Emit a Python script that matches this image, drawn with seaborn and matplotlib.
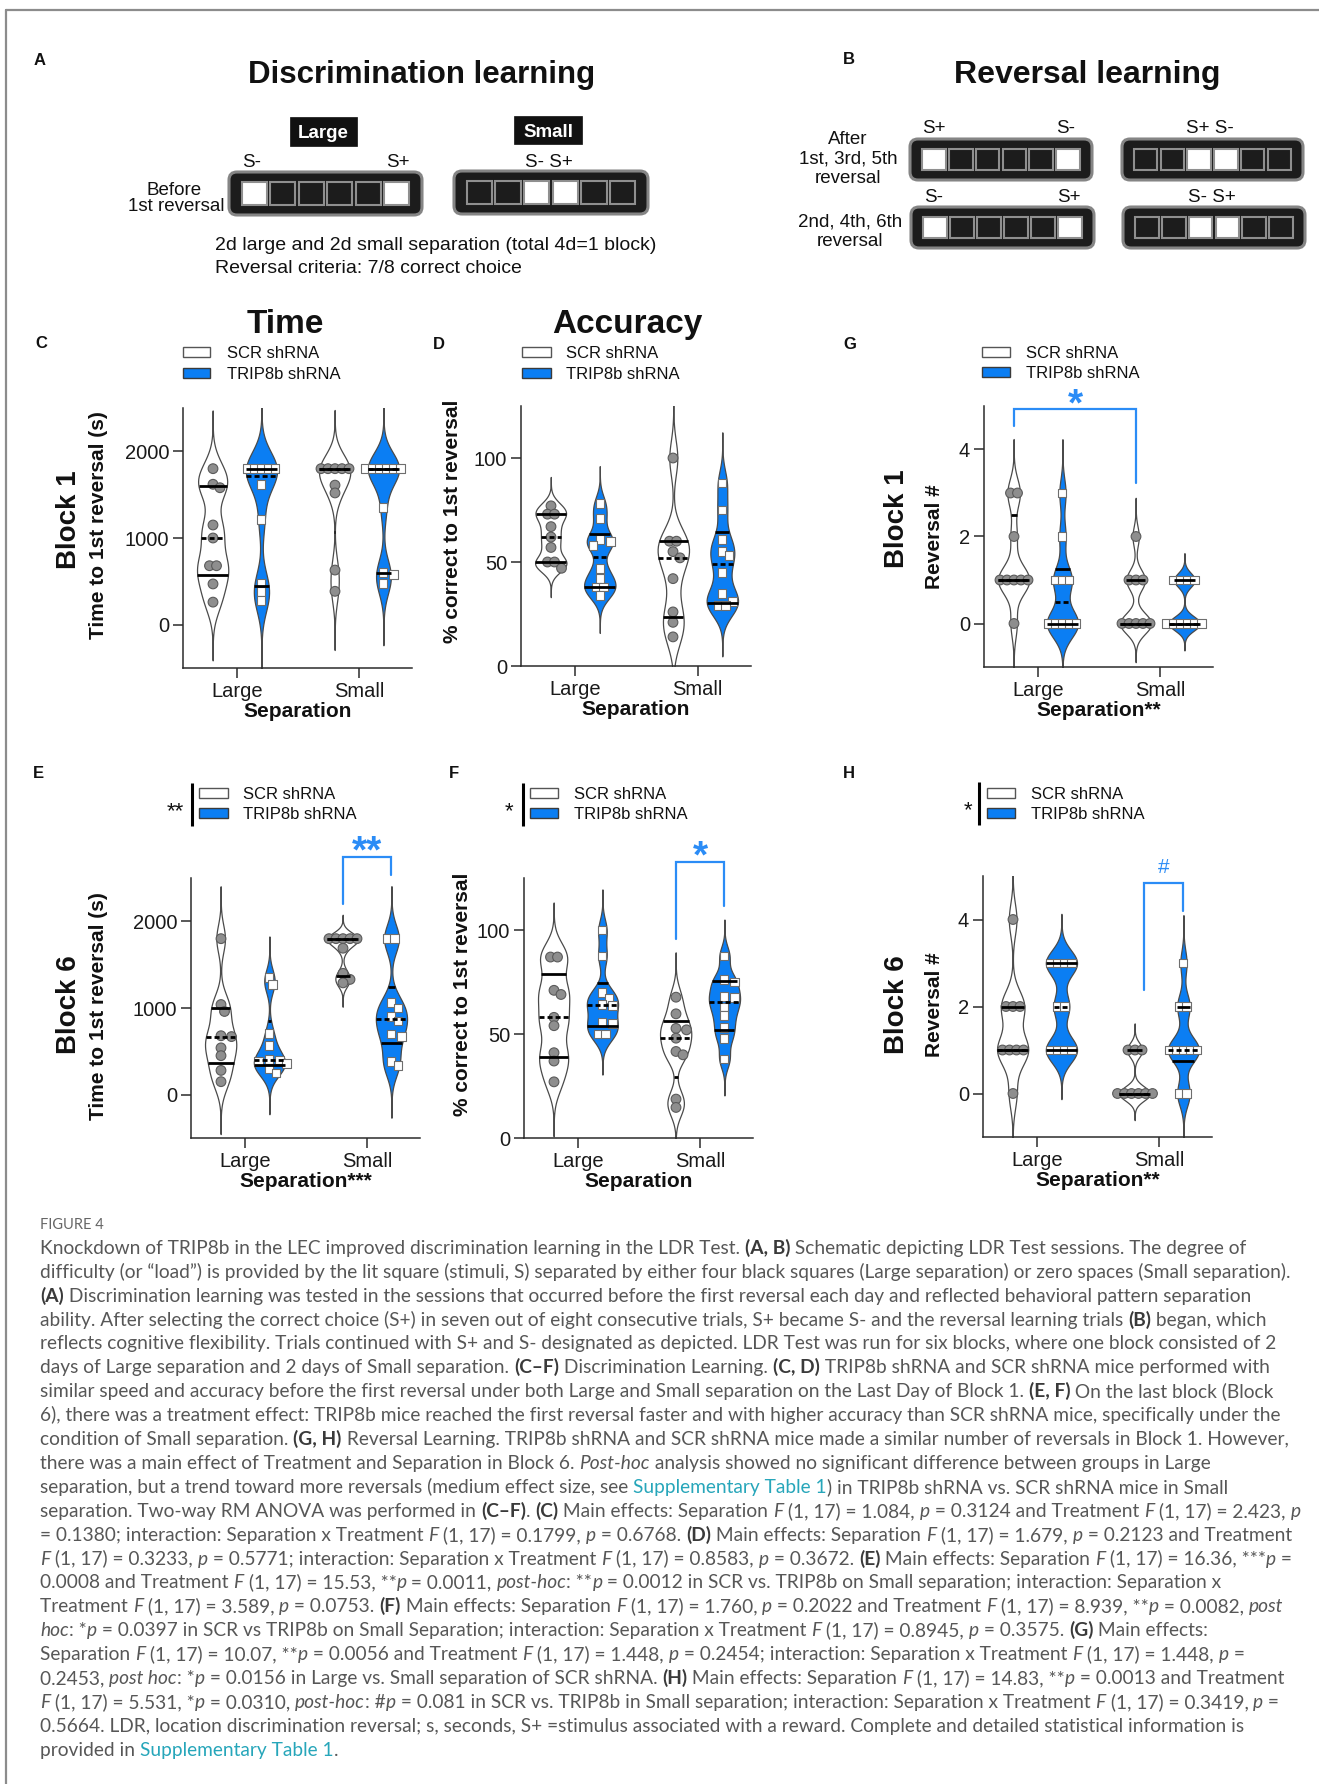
import re
import numpy as np
import pandas as pd
import matplotlib
matplotlib.use("Agg")
import matplotlib.pyplot as plt
import seaborn as sns
from matplotlib.patches import Rectangle, FancyBboxPatch

W, H, DPI = 1319, 1784, 100
PT = DPI / 72.0

# ---------------- data ----------------
SEPARATIONS = ["Large", "Small"]
TREATMENTS = ["SCR shRNA", "TRIP8b shRNA"]

# Block 1 - time to 1st reversal (s)
C_scr_large = [1800, 1620, 1580, 1150, 1000, 680, 680, 470, 260]
C_trip_large = [1800, 1800, 1800, 1800, 1800, 1620, 1210, 470, 380, 280]
C_scr_small = [1800, 1800, 1800, 1800, 1800, 1610, 1520, 630, 385]
C_trip_small = [1800, 1800, 1800, 1800, 1800, 1800, 1350, 600, 580, 470]
# Block 1 - % correct to 1st reversal
D_scr_large = [77, 73, 73, 67, 62, 57, 50, 50, 47]
D_trip_large = [78, 71, 61, 60, 58, 47, 42, 38, 38, 34]
D_scr_small = [100, 60, 60, 55, 52, 42, 26, 21, 14]
D_trip_small = [88, 75, 61, 55, 53, 45, 35, 31, 29, 29]
# Block 1 - reversal #
G_scr_large = [3, 3, 2, 1, 1, 1, 1, 1, 0]
G_trip_large = [3, 2, 1, 1, 1, 0, 0, 0, 0, 0]
G_scr_small = [2, 1, 1, 1, 0, 0, 0, 0, 0]
G_trip_small = [1, 1, 1, 1, 0, 0, 0, 0, 0, 0]
# Block 6 - time to 1st reversal (s)
E_scr_large = [1800, 1040, 960, 680, 670, 540, 450, 280, 150]
E_trip_large = [1350, 1270, 710, 570, 410, 400, 380, 360, 300, 250]
E_scr_small = [1800, 1800, 1800, 1800, 1800, 1690, 1400, 1330, 1290]
E_trip_small = [1800, 1800, 1060, 1000, 900, 850, 700, 670, 385, 340]
# Block 6 - % correct to 1st reversal
F_scr_large = [87, 87, 71, 69, 58, 54, 41, 37, 27]
F_trip_large = [100, 87.5, 70, 67, 64, 63.5, 55.5, 55, 50, 50]
F_scr_small = [67.7, 59.7, 52.7, 52, 48, 41.6, 40, 18.7, 14.7]
F_trip_small = [87.5, 76, 75, 68, 67.5, 63, 58.7, 53, 48, 38]
# Block 6 - reversal #
H_scr_large = [4, 2, 2, 2, 1, 1, 1, 1, 0]
H_trip_large = [3, 3, 3, 3, 2, 2, 1, 1, 1, 1]
H_scr_small = [1, 1, 1, 0, 0, 0, 0, 0, 0]
H_trip_small = [3, 2, 2, 1, 1, 1, 1, 1, 0, 0]

TIME_TICKS = [0, 1000, 2000]
ACC_TICKS = [0, 50, 100]
REV_TICKS = [0, 2, 4]

CAPTION = [
    "Knockdown of TRIP8b in the LEC improved discrimination learning in the LDR Test. {b:(A, B)} Schematic depicting LDR Test sessions. The degree of",
    "difficulty (or \u201cload\u201d) is provided by the lit square (stimuli, S) separated by either four black squares (Large separation) or zero spaces (Small separation).",
    "{b:(A)} Discrimination learning was tested in the sessions that occurred before the first reversal each day and reflected behavioral pattern separation",
    "ability. After selecting the correct choice (S+) in seven out of eight consecutive trials, S+ became S- and the reversal learning trials {b:(B)} began, which",
    "reflects cognitive flexibility. Trials continued with S+ and S- designated as depicted. LDR Test was run for six blocks, where one block consisted of 2",
    "days of Large separation and 2 days of Small separation. {b:(C\u2013F)} Discrimination Learning. {b:(C, D)} TRIP8b shRNA and SCR shRNA mice performed with",
    "similar speed and accuracy before the first reversal under both Large and Small separation on the Last Day of Block 1. {b:(E, F)} On the last block (Block",
    "6), there was a treatment effect: TRIP8b mice reached the first reversal faster and with higher accuracy than SCR shRNA mice, specifically under the",
    "condition of Small separation. {b:(G, H)} Reversal Learning. TRIP8b shRNA and SCR shRNA mice made a similar number of reversals in Block 1. However,",
    "there was a main effect of Treatment and Separation in Block 6. {i:Post-hoc} analysis showed no significant difference between groups in Large",
    "separation, but a trend toward more reversals (medium effect size, see {l:Supplementary Table 1}) in TRIP8b shRNA vs. SCR shRNA mice in Small",
    "separation. Two-way RM ANOVA was performed in {b:(C\u2013F)}. {b:(C)} Main effects: Separation {i:F} (1, 17) = 1.084, {i:p} = 0.3124 and Treatment {i:F} (1, 17) = 2.423, {i:p}",
    "= 0.1380; interaction: Separation x Treatment {i:F} (1, 17) = 0.1799, {i:p} = 0.6768. {b:(D)} Main effects: Separation {i:F} (1, 17) = 1.679, {i:p} = 0.2123 and Treatment",
    "{i:F} (1, 17) = 0.3233, {i:p} = 0.5771; interaction: Separation x Treatment {i:F} (1, 17) = 0.8583, {i:p} = 0.3672. {b:(E)} Main effects: Separation {i:F} (1, 17) = 16.36, ***{i:p} =",
    "0.0008 and Treatment {i:F} (1, 17) = 15.53, **{i:p} = 0.0011, {i:post-hoc}: **{i:p} = 0.0012 in SCR vs. TRIP8b on Small separation; interaction: Separation x",
    "Treatment {i:F} (1, 17) = 3.589, {i:p} = 0.0753. {b:(F)} Main effects: Separation {i:F} (1, 17) = 1.760, {i:p} = 0.2022 and Treatment {i:F} (1, 17) = 8.939, **{i:p} = 0.0082, {i:post}",
    "{i:hoc}: *{i:p} = 0.0397 in SCR vs TRIP8b on Small Separation; interaction: Separation x Treatment {i:F} (1, 17) = 0.8945, {i:p} = 0.3575. {b:(G)} Main effects:",
    "Separation {i:F} (1, 17) = 10.07, **{i:p} = 0.0056 and Treatment {i:F} (1, 17) = 1.448, {i:p} = 0.2454; interaction: Separation x Treatment {i:F} (1, 17) = 1.448, {i:p} =",
    "0.2453, {i:post hoc}: *{i:p} = 0.0156 in Large vs. Small separation of SCR shRNA. {b:(H)} Main effects: Separation {i:F} (1, 17) = 14.83, **{i:p} = 0.0013 and Treatment",
    "{i:F} (1, 17) = 5.531, *{i:p} = 0.0310, {i:post-hoc}: #{i:p} = 0.081 in SCR vs. TRIP8b in Small separation; interaction: Separation x Treatment {i:F} (1, 17) = 0.3419, {i:p} =",
    "0.5664. LDR, location discrimination reversal; s, seconds, S+ =stimulus associated with a reward. Complete and detailed statistical information is",
    "provided in {l:Supplementary Table 1}.",
]

# ---------------- style ----------------
BLUE = "#0b7ef3"
BR_BLUE = "#2b8cf6"
DARK = "#1c1c1c"

sns.set_theme(style="ticks")
plt.rcParams["font.family"] = ["Liberation Sans", "DejaVu Sans"]

fig = plt.figure(figsize=(W / DPI, H / DPI), dpi=DPI)
fig.patch.set_facecolor("white")
cv = fig.add_axes([0, 0, 1, 1])
cv.set_xlim(0, W)
cv.set_ylim(H, 0)
cv.axis("off")


def T(x, y, s, size, weight="normal", color="#111111", ha="center", k=0.36, **kw):
    """text whose cap-centre is at pixel y"""
    return cv.text(x, y + k * size * PT, s, fontsize=size, fontweight=weight,
                   color=color, ha=ha, va="baseline", **kw)


def VT(x, y, s, size):
    return cv.text(x, y, s, fontsize=size, fontweight="bold", color="#111111",
                   rotation=90, ha="center", va="center")


# frame
cv.plot([6, W], [10, 10], color="#8c8c8c", lw=1.6)
cv.plot([6, 6], [10, H], color="#8c8c8c", lw=1.6)


# ---------------- schematic A / B ----------------
def device(x0, x1, y0, y1, lit):
    w, h = x1 - x0, y1 - y0
    cv.add_patch(FancyBboxPatch((x0, y0), w, h, boxstyle="round,pad=0,rounding_size=8",
                                fc=DARK, ec="#858585", lw=2.2, zorder=2))
    m = 0.066 * w
    sw = 0.13 * w
    pitch = (w - 2 * m - sw) / 5
    sh = 0.52 * h
    sy = y0 + (h - sh) / 2
    for i in range(6):
        cv.add_patch(Rectangle((x0 + m + i * pitch, sy), sw, sh,
                               fc="white" if i in lit else DARK, ec="#8f8f8f", lw=1.5, zorder=3))


def label_box(x0, x1, y0, y1, s):
    cv.add_patch(Rectangle((x0, y0), x1 - x0, y1 - y0, fc="#111111", ec="#111111", lw=0.5))
    T((x0 + x1) / 2, (y0 + y1) / 2, s, 13.5, weight="bold", color="white")


T(34, 59, "A", 12, weight="bold", ha="left")
T(422, 72, "Discrimination learning", 22.5, weight="bold")
label_box(290, 357, 117, 146, "Large")
label_box(514, 582, 116, 144, "Small")
T(252, 160, "S-", 13.5)
T(398, 160, "S+", 13.5)
T(549, 160, "S- S+", 13.5)
device(229, 422, 172, 215, [0, 5])
device(454, 648, 171, 214, [2, 3])
T(174, 188, "Before", 13.5)
T(176, 204, "1st reversal", 13.5)
T(215, 243, "2d large and 2d small separation (total 4d=1 block)", 14, ha="left")
T(215, 266, "Reversal criteria: 7/8 correct choice", 14, ha="left")

T(843, 58, "B", 12, weight="bold", ha="left")
T(1087, 72, "Reversal learning", 23, weight="bold")
device(910, 1092, 139, 180, [0, 5])
device(1122, 1303, 139, 180, [2, 3])
device(911, 1094, 207, 248, [0, 5])
device(1123, 1305, 207, 248, [2, 3])
T(934, 126, "S+", 13.5)
T(1066, 126, "S-", 13.5)
T(1210, 126, "S+ S-", 13.5)
T(934, 195, "S-", 13.5)
T(1069, 195, "S+", 13.5)
T(1212, 195, "S- S+", 13.5)
T(848, 137, "After", 13.5)
T(848, 157, "1st, 3rd, 5th", 13.5)
T(848, 176, "reversal", 13.5)
T(850, 220, "2nd, 4th, 6th", 13.5)
T(850, 239, "reversal", 13.5)


# ---------------- violin panels ----------------
def make_axes(x0, ytop, x1, ybot):
    return fig.add_axes([x0 / W, 1 - ybot / H, (x1 - x0) / W, (ybot - ytop) / H])


def span_at(verts, y):
    xs = []
    for (x1, y1), (x2, y2) in zip(verts[:-1], verts[1:]):
        if y1 == y2:
            continue
        if (y1 - y) * (y2 - y) <= 0:
            xs.append(x1 + (y - y1) * (x2 - x1) / (y2 - y1))
    return min(xs), max(xs)


def spread_points(ax, coll, step=7.0, dmin=7.5):
    """GraphPad-like scatter: tied values are laid out side by side."""
    offs = np.asarray(coll.get_offsets(), dtype=float)
    if len(offs) == 0:
        return
    pix = ax.transData.transform(offs)
    new = pix.copy()
    for cx in np.unique(np.round(pix[:, 0], 0)):
        idx = np.where(np.abs(pix[:, 0] - cx) < 1.0)[0]
        vals = offs[idx, 1]
        rows = {}
        for i, v in zip(idx, vals):
            rows.setdefault(v, []).append(i)
        placed = []
        for v, members in sorted(rows.items(), key=lambda kv: -len(kv[1])):
            n = len(members)
            base = (np.arange(n) - (n - 1) / 2.0) * step
            y = pix[members[0], 1]
            for k in range(60):
                shift = ((k + 1) // 2) * (step / 2.0) * (1 if k % 2 else -1)
                xs = cx + base + shift
                ok = all(np.hypot(x - px, y - py) >= dmin for x in xs for px, py in placed)
                if ok:
                    break
            for m, x in zip(members, xs):
                new[m, 0] = x
                placed.append((x, y))
    coll.set_offsets(ax.transData.inverted().transform(new))


def draw_panel(ax, groups, ylim, yticks, xlabel):
    rows = [(sep, trt, v) for (sep, trt), vals in groups.items() for v in vals]
    df = pd.DataFrame(rows, columns=["Separation", "Treatment", "Value"])
    sns.violinplot(data=df, x="Separation", y="Value", hue="Treatment",
                   order=SEPARATIONS, hue_order=TREATMENTS,
                   palette={TREATMENTS[0]: "white", TREATMENTS[1]: BLUE}, saturation=1,
                   dodge=True, width=0.8, gap=0.36, density_norm="width",
                   bw_adjust=0.5, cut=3.8, inner=None, linewidth=0.9,
                   linecolor="#4a4a4a", legend=False, ax=ax)
    polys = list(ax.collections)
    centers = []
    for p in polys:
        v = p.get_paths()[0].vertices
        centers.append(0.5 * (v[:, 0].min() + v[:, 0].max()))
    n0 = len(ax.collections)
    for trt, marker, size, fc, ec in ((TREATMENTS[0], "o", 7.0, "#8e8e8e", "#5a5a5a"),
                                      (TREATMENTS[1], "s", 6.4, "white", "#6e6e6e")):
        sub = df[df["Treatment"] == trt]
        sns.stripplot(data=sub, x="Separation", y="Value", hue="Treatment",
                      order=SEPARATIONS, hue_order=TREATMENTS, jitter=False,
                      palette={t: fc for t in TREATMENTS}, dodge=True, marker=marker,
                      size=size, edgecolor=ec, linewidth=0.8, legend=False, ax=ax, zorder=3)
    point_colls = list(ax.collections)[n0:]
    for (sep, trt), vals in groups.items():
        pos = SEPARATIONS.index(sep) + (-0.2 if trt == TREATMENTS[0] else 0.2)
        idx = int(np.argmin([abs(c - pos) for c in centers]))
        verts = polys[idx].get_paths()[0].vertices
        q1, q2, q3 = np.percentile(vals, [25, 50, 75], method="weibull")
        for q, ls in ((q1, "-"), (q3, "-"), (q2, (0, (1.8, 1.1)))):
            xl, xr = span_at(verts, q)
            ax.plot([xl, xr], [q, q], color="black", lw=2.0, ls=ls, zorder=5,
                    solid_capstyle="butt", dash_capstyle="butt")
    ax.set_xlim(-0.443, 1.434)
    ax.set_ylim(*ylim)
    ax.set_yticks(yticks)
    ax.set_xticks([0, 1])
    ax.set_xticklabels(SEPARATIONS)
    for c in point_colls:
        spread_points(ax, c)
    for s in ("top", "right"):
        ax.spines[s].set_visible(False)
    for s in ("left", "bottom"):
        ax.spines[s].set_linewidth(1.1)
        ax.spines[s].set_color("#2b2b2b")
    ax.tick_params(length=7, width=1.1, color="#2b2b2b", labelsize=14.5, pad=3,
                   labelcolor="#1a1a1a")
    ax.set_xlabel(xlabel, fontsize=15, fontweight="bold", labelpad=1, color="#111111")
    ax.set_ylabel("")
    ax.patch.set_visible(False)


def groups_of(sl, tl, ss, ts):
    return {("Large", TREATMENTS[0]): sl, ("Large", TREATMENTS[1]): tl,
            ("Small", TREATMENTS[0]): ss, ("Small", TREATMENTS[1]): ts}


def bracket(ax, x0, x1, ytop, yl, yr):
    ax.plot([x0, x0, x1, x1], [yl, ytop, ytop, yr], color=BR_BLUE, lw=1.6,
            clip_on=False, solid_joinstyle="miter")


def mark(ax, x, y, s, size, weight="bold", kc=0.58):
    ax.annotate(s, xy=(x, y), xytext=(0, -kc * size), textcoords="offset points",
                ha="center", va="baseline", fontsize=size, fontweight=weight,
                color=BR_BLUE, annotation_clip=False)


def legend(px0, px1, y1, y2, tx):
    for yc, fc, ec, lab in ((y1, "white", "#555555", TREATMENTS[0]),
                            (y2, BLUE, "#3a3a3a", TREATMENTS[1])):
        cv.add_patch(Rectangle((px0, yc - 5), px1 - px0, 10, fc=fc, ec=ec, lw=1.0))
        T(tx, yc, lab, 12, ha="left")


def stat_bar(x, y0, y1, sx, s):
    cv.plot([x, x], [y0, y1], color="black", lw=2.2, solid_capstyle="butt")
    T(sx, (y0 + y1) / 2, s, 16, k=0.58)


# C
axC = make_axes(183, 408, 412, 668)
draw_panel(axC, groups_of(C_scr_large, C_trip_large, C_scr_small, C_trip_small),
           (-500, 2500), TIME_TICKS, "Separation")
# D
axD = make_axes(521, 406, 751, 666)
draw_panel(axD, groups_of(D_scr_large, D_trip_large, D_scr_small, D_trip_small),
           (0, 125), ACC_TICKS, "Separation")
# G
axG = make_axes(984, 406, 1213, 667)
draw_panel(axG, groups_of(G_scr_large, G_trip_large, G_scr_small, G_trip_small),
           (-1, 5), REV_TICKS, "Separation**")
bracket(axG, -0.2, 0.8, 4.94, 4.55, 3.22)
mark(axG, 0.31, 5.3, "*", 28)
# E
axE = make_axes(191, 878, 420, 1138)
draw_panel(axE, groups_of(E_scr_large, E_trip_large, E_scr_small, E_trip_small),
           (-500, 2500), TIME_TICKS, "Separation***")
bracket(axE, 0.8, 1.2, 2738, 2204, 2538)
mark(axE, 1.0, 2940, "**", 28)
# F
axF = make_axes(524, 878, 753, 1138)
draw_panel(axF, groups_of(F_scr_large, F_trip_large, F_scr_small, F_trip_small),
           (0, 125), ACC_TICKS, "Separation")
bracket(axF, 0.8, 1.2, 132.8, 95.5, 111.5)
mark(axF, 1.0, 141, "*", 28)
# H
axH = make_axes(983, 876, 1212, 1137)
draw_panel(axH, groups_of(H_scr_large, H_trip_large, H_scr_small, H_trip_small),
           (-1, 5), REV_TICKS, "Separation**")
bracket(axH, 0.88, 1.2, 4.83, 2.38, 4.19)
mark(axH, 1.04, 5.24, "#", 15, weight="normal", kc=0.36)

# panel letters / titles / y labels / legends
T(35, 342, "C", 12, weight="bold", ha="left")
T(433, 343, "D", 12, weight="bold", ha="left")
T(843, 343, "G", 12, weight="bold", ha="left")
T(33, 772, "E", 12, weight="bold", ha="left")
T(449, 772, "F", 12, weight="bold", ha="left")
T(843, 772, "H", 12, weight="bold", ha="left")
T(285, 321, "Time", 24, weight="bold")
T(627, 321, "Accuracy", 24, weight="bold")

VT(69, 520, "Block 1", 20)
VT(98, 525, "Time to 1st reversal (s)", 15)
VT(453, 521, "% correct to 1st reversal", 15)
VT(897, 519, "Block 1", 20)
VT(935, 537, "Reversal #", 15)
VT(69, 1005, "Block 6", 20)
VT(98, 1006, "Time to 1st reversal (s)", 15)
VT(463, 994, "% correct to 1st reversal", 15)
VT(897, 1005, "Block 6", 20)
VT(934, 1005, "Reversal #", 15)

legend(183, 210, 352, 373, 227)
legend(522, 551, 352, 373, 566)
legend(982, 1010, 352, 372, 1026)
legend(199, 228, 793, 813, 243)
legend(530, 558, 793, 813, 574)
legend(987, 1015, 793, 813, 1031)
stat_bar(192, 783, 826, 175, "**")
stat_bar(523, 783, 826, 509, "*")
stat_bar(979, 782, 825, 968, "*")

# ---------------- caption ----------------
CAP_FAMILY = ["Lato", "DejaVu Sans"]
STY = {"n": dict(color="#575757"),
       "b": dict(color="#3a3a3a", fontweight="bold"),
       "i": dict(color="#575757", fontstyle="italic"),
       "l": dict(color="#27a6ba")}


def parse(line):
    parts, pos = [], 0
    for m in re.finditer(r"\{([bil]):(.*?)\}", line):
        if m.start() > pos:
            parts.append(("n", line[pos:m.start()]))
        parts.append((m.group(1), m.group(2)))
        pos = m.end()
    if pos < len(line):
        parts.append(("n", line[pos:]))
    return parts


renderer = fig.canvas.get_renderer()


def seg_w(s, kind, size):
    props = dict(fontsize=size, family=CAP_FAMILY, **STY[kind])
    t1 = cv.text(0, 0, "|" + s + "|", **props)
    w1 = t1.get_window_extent(renderer).width
    t1.remove()
    t0 = cv.text(0, 0, "||", **props)
    w0 = t0.get_window_extent(renderer).width
    t0.remove()
    return w1 - w0


widest = max(sum(seg_w(s, k, 10) for k, s in parse(line)) for line in CAPTION)
CAP_SIZE = 10 * 1259.0 / widest

cv.text(40, 1224 + 0.36 * 10.5 * PT, "FIGURE 4", fontsize=10.5, family=CAP_FAMILY,
        color="#666666", ha="left", va="baseline")
for i, line in enumerate(CAPTION):
    yb = 1247 + i * 23.9 + 0.36 * CAP_SIZE * PT
    x = 40.0
    for kind, s in parse(line):
        cv.text(x, yb, s, fontsize=CAP_SIZE, family=CAP_FAMILY, ha="left",
                va="baseline", **STY[kind])
        x += seg_w(s, kind, CAP_SIZE)

fig.savefig("out.png", dpi=DPI, facecolor="white")
